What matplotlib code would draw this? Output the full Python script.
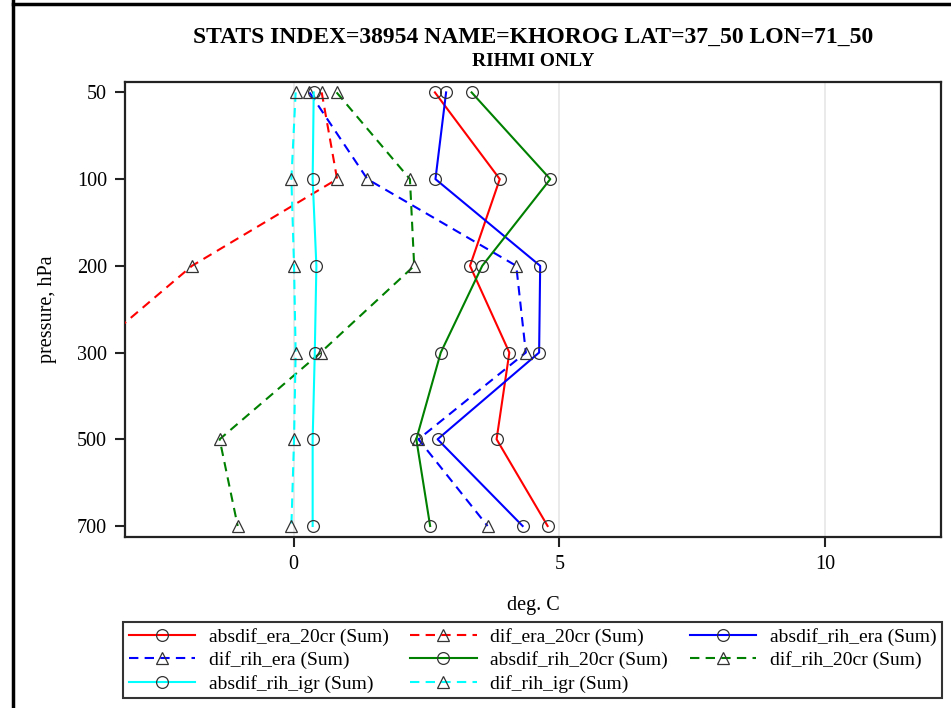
import numpy as np
import matplotlib
matplotlib.use('Agg')
import matplotlib.pyplot as plt
from matplotlib.lines import Line2D

plt.rcParams['font.family'] = ['Liberation Serif', 'DejaVu Serif']

# pressure levels (hPa), plotted as equally spaced categories
levels = ['50', '100', '200', '300', '500', '700']

# stats per level, deg. C
absdif_era_20cr = [2.66, 3.88, 3.32, 4.06, 3.82, 4.78]
dif_era_20cr = [0.53, 0.82, -1.91, -3.83, np.nan, np.nan]   # lower levels off scale
absdif_rih_era = [2.87, 2.67, 4.64, 4.62, 2.71, 4.31]
dif_rih_era = [0.30, 1.39, 4.19, 4.37, 2.35, 3.65]
absdif_rih_20cr = [3.35, 4.83, 3.55, 2.77, 2.31, 2.57]
dif_rih_20cr = [0.81, 2.19, 2.27, 0.51, -1.39, -1.05]
absdif_rih_igr = [0.38, 0.36, 0.43, 0.40, 0.36, 0.36]
dif_rih_igr = [0.04, -0.04, 0.01, 0.04, 0.01, -0.04]

series = [
    ('absdif_era_20cr (Sum)', absdif_era_20cr, 'red', '-', 'o'),
    ('dif_era_20cr (Sum)', dif_era_20cr, 'red', '--', '^'),
    ('absdif_rih_era (Sum)', absdif_rih_era, 'blue', '-', 'o'),
    ('dif_rih_era (Sum)', dif_rih_era, 'blue', '--', '^'),
    ('absdif_rih_20cr (Sum)', absdif_rih_20cr, 'green', '-', 'o'),
    ('dif_rih_20cr (Sum)', dif_rih_20cr, 'green', '--', '^'),
    ('absdif_rih_igr (Sum)', absdif_rih_igr, 'cyan', '-', 'o'),
    ('dif_rih_igr (Sum)', dif_rih_igr, 'cyan', '--', '^'),
]

fig = plt.figure(figsize=(9.51, 7.08), dpi=100)
ax = fig.add_axes([125 / 951, 1 - 537 / 708, 816 / 951, 455 / 708])

ypos = np.arange(len(levels))
handles = []
for name, vals, color, ls, mk in series:
    h, = ax.plot(vals, ypos, color=color, ls=ls, lw=1.5,
                 dashes=(4.5, 3) if ls == '--' else (None, None),
                 marker=mk, ms=8.5, mfc='none', mec='#333333', mew=0.9,
                 label=name, zorder=3)
    handles.append(h)

ax.set_xlim(-3.17, 12.18)
ax.set_ylim(5.127, -0.12)
ax.set_yticks(ypos)
ax.set_yticklabels(levels)
ax.set_xticks([0, 5, 10])
ax.grid(axis='x', color='#e6e6e6', lw=1.2, zorder=0)
ax.set_axisbelow(True)

for sp in ax.spines.values():
    sp.set_linewidth(1.6)
    sp.set_color('#222222')
ax.tick_params(length=7, width=1.5, labelsize=14.5, pad=6, color='#222222')

ax.set_xlabel('deg. C', fontsize=14.5, labelpad=16)
ax.set_ylabel('pressure, hPa', fontsize=14.5, labelpad=14)

fig.text(533 / 951, 1 - 37 / 708, 'STATS INDEX=38954 NAME=KHOROG LAT=37_50 LON=71_50',
         ha='center', va='center', fontsize=17, fontweight='bold')
fig.text(533 / 951, 1 - 61 / 708, 'RIHMI ONLY',
         ha='center', va='center', fontsize=14, fontweight='bold')

# legend reads row by row; matplotlib fills columns, so reorder
order = [0, 3, 6, 1, 4, 7, 2, 5]
leg = fig.legend(handles=[handles[i] for i in order], ncol=3, loc='upper left',
                 bbox_to_anchor=(123 / 951, 1 - 697 / 708, 819 / 951, 75 / 708),
                 mode='expand', fontsize=14, frameon=True, fancybox=False,
                 edgecolor='black', handlelength=3.4, handletextpad=0.7,
                 borderpad=0.3, labelspacing=0.28, numpoints=1, borderaxespad=0,
                 columnspacing=0.5)
leg.get_frame().set_linewidth(1.5)

# outer frame lines
fig.add_artist(Line2D([13 / 951, 13 / 951], [0, 1], color='black', lw=2.5,
                      transform=fig.transFigure))
fig.add_artist(Line2D([13 / 951, 1], [1 - 4 / 708, 1 - 4 / 708], color='black', lw=2.5,
                      transform=fig.transFigure))

fig.savefig('out.png', dpi=100)
